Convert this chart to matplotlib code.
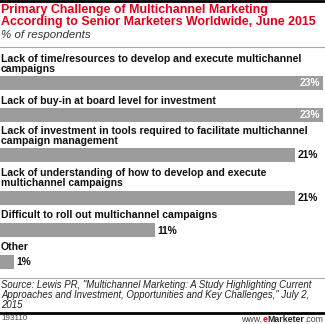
import matplotlib.pyplot as plt
from matplotlib.lines import Line2D
from matplotlib import font_manager

labels = [
    "Lack of time/resources to develop and execute multichannel\ncampaigns",
    "Lack of buy-in at board level for investment",
    "Lack of investment in tools required to facilitate multichannel\ncampaign management",
    "Lack of understanding of how to develop and execute\nmultichannel campaigns",
    "Difficult to roll out multichannel campaigns",
    "Other",
]
values = [23, 23, 21, 21, 11, 1]

title = "Primary Challenge of Multichannel Marketing\nAccording to Senior Marketers Worldwide, June 2015"
subtitle = "% of respondents"
source = ("Source: Lewis PR, \"Multichannel Marketing: A Study Highlighting Current\n"
          "Approaches and Investment, Opportunities and Key Challenges,\" July 2,\n2015")

W, H = 325, 324
names = {f.name for f in font_manager.fontManager.ttflist}
BOLD = "Liberation Sans Narrow" if "Liberation Sans Narrow" in names else "Liberation Sans"
plt.rcParams["font.family"] = "Liberation Sans"

fig = plt.figure(figsize=(W / 100, H / 100), dpi=100)
ax = fig.add_axes([0, 0, 1, 1])
PX = 14.05  # pixels per percentage point
ax.set_xlim(0, W / PX)
ax.set_ylim(H, 0)
ax.axis("off")
renderer = fig.canvas.get_renderer()


def fit(t, target_w):
    w = t.get_window_extent(renderer).width
    t.set_fontsize(t.get_fontsize() * target_w / w)


def hline(y, color, lw):
    fig.add_artist(Line2D([0, 1], [1 - y / H, 1 - y / H], color=color, lw=lw))


hline(1.2, "black", 2.0)
t = ax.text(1 / PX, 3.5, title, color="#e2001a", fontsize=9, fontweight="bold", family=BOLD,
            va="top", ha="left", linespacing=1.05)
fit(t, 314)
t = ax.text(1 / PX, 30.5, subtitle, fontsize=8, style="italic", va="top", ha="left", color="#333333")
fit(t, 90)
hline(46.5, "#aaaaaa", 0.8)

bar_y = [83, 115, 155, 197.5, 230, 261.5]
label_y = [54.5, 96.5, 126.5, 167.5, 209.5, 241.5]
fit_w = [302, 214, 306, 264, 216, 28]
for lab, v, by, ly, fw in zip(labels, values, bar_y, label_y, fit_w):
    t = ax.text(1 / PX, ly, lab, fontsize=7.5, fontweight="bold", family=BOLD, va="top", ha="left",
                linespacing=1.0, color="#111111")
    fit(t, fw)
    ax.barh(by, v, height=14, color="#9c9c9c", left=0)
    if v >= 22:
        ax.text(v - 3 / PX, by + 0.5, f"{v}%", color="white", fontsize=7.4, fontweight="bold",
                va="center", ha="right")
    else:
        ax.text(v + 2.5 / PX, by + 0.5, f"{v}%", color="#111111", fontsize=7.4, fontweight="bold",
                va="center", ha="left")

hline(278, "#aaaaaa", 0.8)
t = ax.text(1 / PX, 280.5, source, fontsize=7, style="italic", va="top", ha="left",
            linespacing=0.98, color="#222222")
fit(t, 309)
hline(313, "black", 2.0)
ax.text(1 / PX, 315.5, "193110", fontsize=5.8, va="top", ha="left", color="#444444")

# www.eMarketer.com, built right to left
x = W - 2
for piece, color, weight in [(".com", "#444444", "normal"), ("Marketer", "#222222", "bold"),
                             ("e", "#e2001a", "bold"), ("www.", "#444444", "normal")]:
    t = ax.text(x / PX, 315.5, piece, fontsize=6.3, va="top", ha="right", color=color, fontweight=weight)
    x -= t.get_window_extent(renderer).width

fig.savefig("out.png", dpi=100)
